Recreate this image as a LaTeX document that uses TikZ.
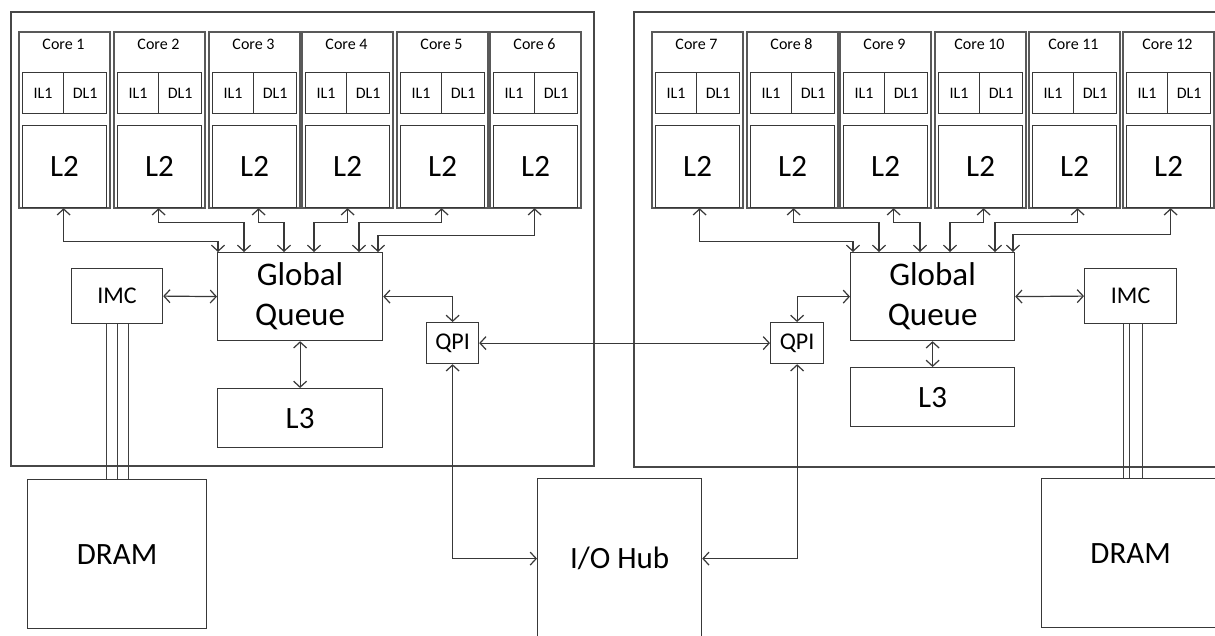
\documentclass[tikz,border=0pt]{standalone}
\usepackage{fontspec}
\setmainfont{Carlito}
\usetikzlibrary{arrows.meta}
\begin{document}
\begin{tikzpicture}[x=1pt,y=-1pt,
  ln/.style={draw=black!78, line width=1.2pt},
  box/.style={ln, rectangle, inner sep=0pt, anchor=north west, text=black},
  corebox/.style={draw=black!65, line width=1.9pt, rectangle, inner sep=0pt, anchor=north west},
  frame/.style={draw=black!72, line width=1.3pt},
  arr/.style={ln, {Straight Barb[length=6pt,width=13pt]}-{Straight Barb[length=6pt,width=13pt]}},
  mem/.style={draw=black!75, line width=1.1pt},
  fcore/.style={font=\fontsize{16}{19}\selectfont, anchor=base, inner sep=0pt},
  fl1/.style={font=\fontsize{16}{19}\selectfont},
  fl2/.style={font=\fontsize{31}{36}\selectfont},
  fgq/.style={font=\fontsize{33}{40}\selectfont, align=center},
  fmid/.style={font=\fontsize{24}{28}\selectfont},
  fbig/.style={font=\fontsize{31}{36}\selectfont}
]
\useasboundingbox (0,0) rectangle (1215,635);
\fill[white] (0,0) rectangle (1215,635);
\clip (0,0) rectangle (1215,635);

% chip frames
\draw[frame] (11,12) rectangle (594,466);
\draw[frame] (634,12) rectangle (1222,467);

% cores
\foreach \x [count=\i] in {18,113,208,301,396,489,651,746,839,934,1028,1122}{
  \node[corebox, minimum width=91pt, minimum height=176pt] (core\i) at (\x,31) {};
  \node[fcore] (title\i) at (\x+45.5,49) {Core \i};
  \node[box, fl1, minimum width=41pt, minimum height=41pt] (il\i) at (\x+4,72) {IL1};
  \node[box, fl1, minimum width=43pt, minimum height=41pt] (dl\i) at (\x+45,72) {DL1};
  \node[box, fl2, minimum width=84pt, minimum height=82pt] (l2-\i) at (\x+4,125) {L2};
}

% left socket blocks
\node[box, fgq, minimum width=165pt, minimum height=88pt] (gq1) at (217,252) {Global\\Queue};
\node[box, fmid, minimum width=91pt, minimum height=55pt] (imc1) at (71,268) {IMC};
\node[box, fbig, minimum width=165pt, minimum height=59pt] (l3a) at (217,388) {L3};
\node[box, fmid, minimum width=52pt, minimum height=41pt] (qpi1) at (426,322) {QPI};

% right socket blocks
\node[box, fgq, minimum width=164pt, minimum height=88pt] (gq2) at (850,252) {Global\\Queue};
\node[box, fmid, minimum width=92pt, minimum height=55pt] (imc2) at (1084,268) {IMC};
\node[box, fbig, minimum width=164pt, minimum height=59pt] (l3b) at (850,367) {L3};
\node[box, fmid, minimum width=53pt, minimum height=41pt] (qpi2) at (770,322) {QPI};

% external
\node[box, fbig, minimum width=179pt, minimum height=149pt] (dram1) at (27,479) {DRAM};
\node[box, fbig, minimum width=178pt, minimum height=149pt] (dram2) at (1041,478) {DRAM};
\node[box, fbig, minimum width=164pt, minimum height=160pt] (ioh) at (537,478) {I/O Hub};

% core <-> global queue (left)
\draw[arr] ([xshift=-1pt]l2-1.south) -- ++(0,33) -| ([xshift=1pt]gq1.north west);
\draw[arr] ([xshift=-1pt]l2-2.south) -- ++(0,14) -| ([xshift=27pt]gq1.north west);
\draw[arr] ([xshift=4pt]l2-3.south) -- ++(0,14) -| ([xshift=67pt]gq1.north west);
\draw[arr] ([xshift=0pt]l2-4.south) -- ++(0,14) -| ([xshift=97pt]gq1.north west);
\draw[arr] ([xshift=-1pt]l2-5.south) -- ++(0,14) -| ([xshift=142pt]gq1.north west);
\draw[arr] ([xshift=-1pt]l2-6.south) -- ++(0,27) -| ([xshift=161pt]gq1.north west);

% core <-> global queue (right)
\draw[arr] ([xshift=2pt]l2-7.south) -- ++(0,33) -| ([xshift=3pt]gq2.north west);
\draw[arr] ([xshift=1pt]l2-8.south) -- ++(0,14) -| ([xshift=29pt]gq2.north west);
\draw[arr] ([xshift=8pt]l2-9.south) -- ++(0,14) -| ([xshift=70pt]gq2.north west);
\draw[arr] ([xshift=3pt]l2-10.south) -- ++(0,14) -| ([xshift=100pt]gq2.north west);
\draw[arr] ([xshift=3pt]l2-11.south) -- ++(0,14) -| ([xshift=145pt]gq2.north west);
\draw[arr] ([xshift=2pt]l2-12.south) -- ++(0,26) -| ([xshift=163pt]gq2.north west);

% on-chip links
\draw[arr] (imc1.east) -- (gq1.west);
\draw[arr] (gq1.east) -| (qpi1.north);
\draw[arr] (gq1.south) -- (l3a.north);
\draw[arr] (gq2.west) -| (qpi2.north);
\draw[arr] (gq2.east) -- (imc2.west);
\draw[arr] (gq2.south) -- (l3b.north);

% QPI links
\draw[arr] (qpi1.east) -- (qpi2.west);
\draw[arr] (qpi1.south) |- (ioh.west);
\draw[arr] (qpi2.south) |- (ioh.east);

% memory channels
\foreach \d in {-11,0,11}{
  \draw[mem] ([xshift=\d pt]imc1.south) -- ([xshift=\d pt]imc1.south |- dram1.north);
}
\foreach \d in {-7,-1,12}{
  \draw[mem] ([xshift=\d pt]imc2.south) -- ([xshift=\d pt]imc2.south |- dram2.north);
}
\end{tikzpicture}
\end{document}
